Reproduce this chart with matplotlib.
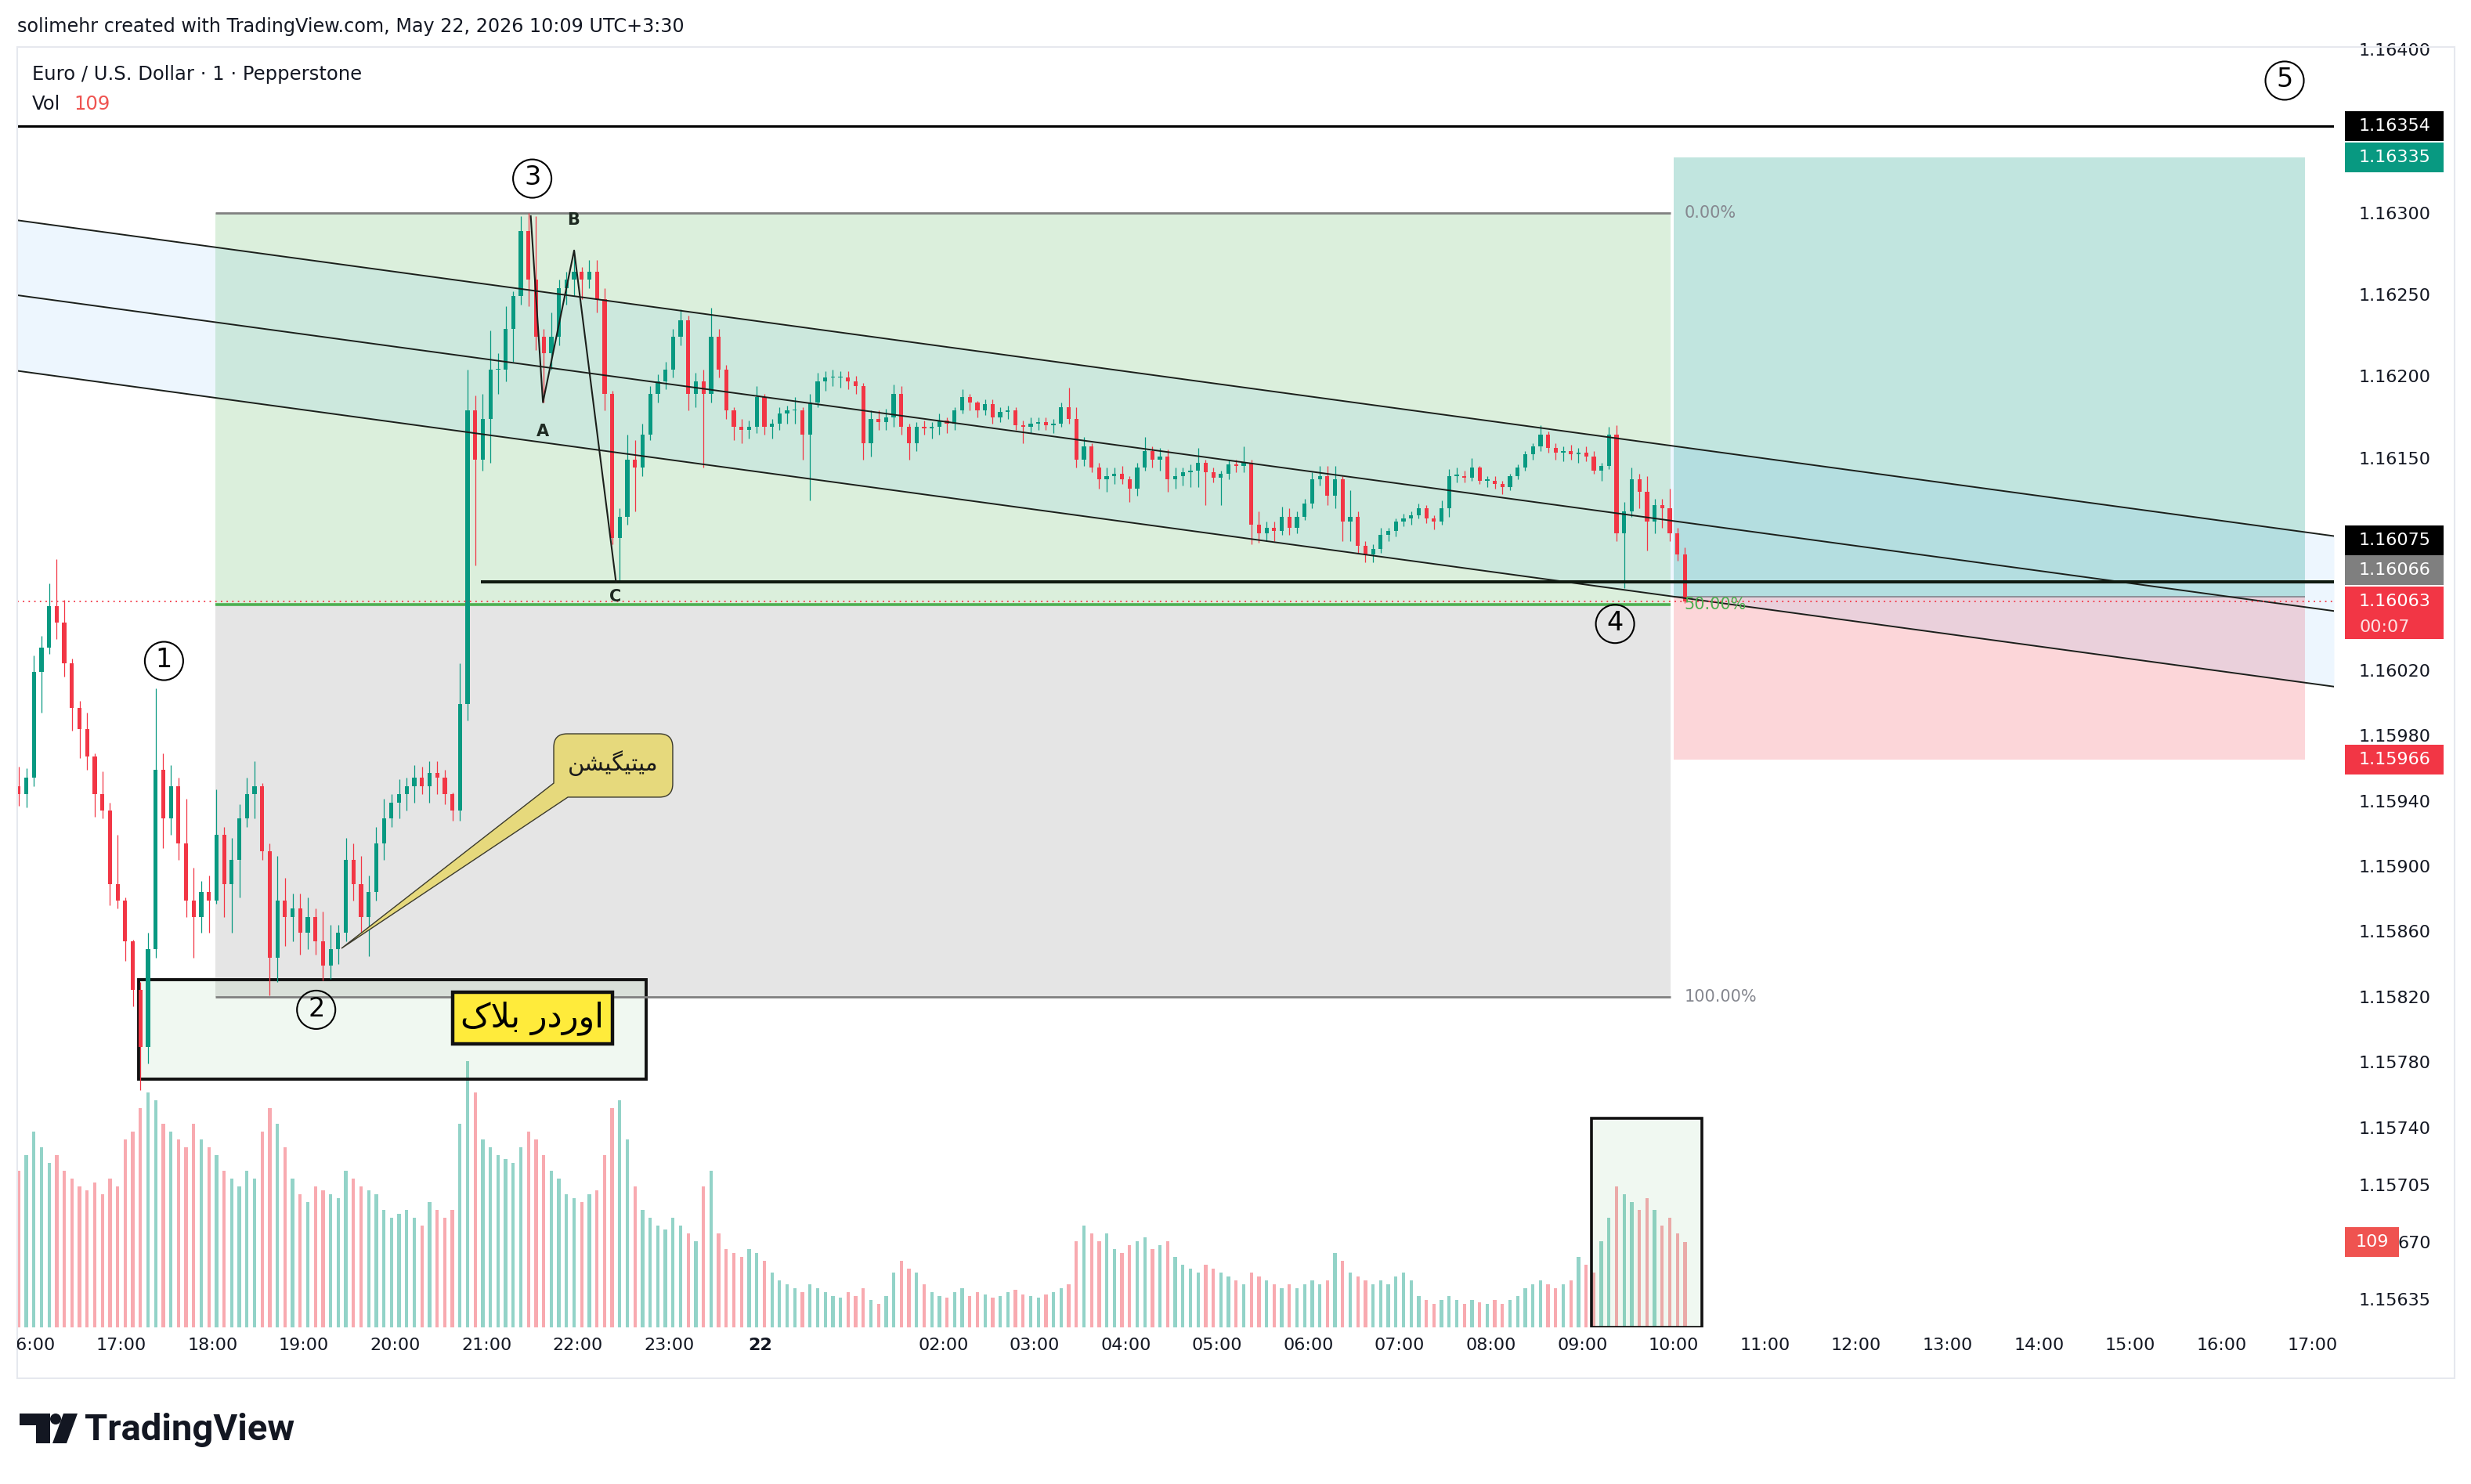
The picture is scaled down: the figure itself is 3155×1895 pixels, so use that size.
import matplotlib
matplotlib.use("Agg")
import numpy as np
import matplotlib.pyplot as plt
import matplotlib.transforms as mtransforms
from matplotlib.patches import Rectangle, PathPatch, Ellipse
from matplotlib.path import Path

W, H, DPI = 3155, 1895, 100

UP = "#089981"
DOWN = "#f23645"
INK = "#131722"

# 5-minute bars, minutes after 16:00 on 21 May (UTC+3:30)
# prices are stored in 1e-5 above 1.15000
BAR_START = -10
BAR_MIN = 5
FIRST_OPEN = 950
CLOSE = [
    945, 955, 1020, 1035, 1060, 1050, 1025, 998, 985, 968,
    945, 935, 890, 880, 855, 825, 790, 850, 960, 930,
    950, 915, 880, 870, 885, 880, 920, 890, 905, 930,
    945, 950, 910, 845, 880, 870, 875, 860, 870, 855,
    840, 850, 860, 905, 890, 870, 885, 915, 930, 940,
    945, 950, 955, 950, 958, 955, 945, 935, 1000, 1180,
    1150, 1175, 1205, 1205, 1230, 1250, 1290, 1260, 1225, 1215,
    1225, 1255, 1260, 1265, 1260, 1265, 1248, 1190, 1102, 1115,
    1150, 1145, 1165, 1190, 1198, 1205, 1225, 1235, 1190, 1198,
    1190, 1225, 1205, 1180, 1170, 1168, 1170, 1188, 1170, 1172,
    1178, 1180, 1180, 1165, 1185, 1198, 1200, 1200, 1200, 1198,
    1195, 1160, 1175, 1173, 1176, 1190, 1170, 1160, 1170, 1169,
    1170, 1174, 1172, 1180, 1188, 1185, 1180, 1184, 1176, 1179,
    1180, 1171, 1170, 1172, 1173, 1171, 1172, 1182, 1175, 1150,
    1158, 1145, 1138, 1140, 1141, 1138, 1132, 1145, 1155, 1150,
    1152, 1138, 1140, 1142, 1143, 1148, 1142, 1139, 1141, 1147,
    1146, 1148, 1110, 1105, 1108, 1106, 1115, 1108, 1115, 1123,
    1138, 1140, 1128, 1138, 1112, 1115, 1097, 1092, 1095, 1104,
    1106, 1112, 1114, 1116, 1120, 1114, 1112, 1120, 1140, 1140,
    1139, 1145, 1137, 1137, 1135, 1133, 1140, 1145, 1153, 1158,
    1165, 1157, 1154, 1155, 1153, 1154, 1152, 1143, 1146, 1165,
    1105, 1118, 1138, 1130, 1112, 1122, 1120, 1105, 1092, 1063,
]
HIGH = [
    962, 961, 1030, 1042, 1074, 1089, 1064, 1028, 1002, 995,
    970, 959, 940, 920, 882, 856, 830, 860, 1010, 970,
    963, 955, 942, 900, 892, 895, 948, 925, 918, 939,
    955, 965, 952, 915, 907, 894, 884, 884, 882, 875,
    873, 865, 865, 918, 915, 907, 895, 925, 942, 945,
    954, 955, 963, 962, 965, 965, 960, 946, 1025, 1205,
    1189, 1190, 1229, 1215, 1244, 1253, 1299, 1301, 1299, 1230,
    1240, 1260, 1265, 1278, 1268, 1272, 1272, 1255, 1192, 1120,
    1165, 1162, 1172, 1195, 1202, 1210, 1230, 1242, 1238, 1203,
    1205, 1243, 1230, 1208, 1182, 1175, 1174, 1195, 1190, 1175,
    1182, 1183, 1188, 1182, 1190, 1203, 1204, 1205, 1204, 1204,
    1201, 1197, 1180, 1180, 1181, 1196, 1195, 1172, 1173, 1174,
    1173, 1178, 1176, 1182, 1193, 1190, 1186, 1187, 1187, 1182,
    1183, 1182, 1174, 1176, 1176, 1176, 1175, 1185, 1194, 1182,
    1164, 1160, 1148, 1145, 1145, 1146, 1140, 1148, 1164, 1158,
    1157, 1156, 1145, 1145, 1147, 1157, 1150, 1145, 1143, 1150,
    1150, 1158, 1150, 1118, 1112, 1112, 1121, 1120, 1118, 1126,
    1142, 1146, 1146, 1146, 1140, 1131, 1118, 1100, 1098, 1108,
    1108, 1114, 1117, 1118, 1123, 1122, 1116, 1125, 1144, 1145,
    1143, 1151, 1146, 1140, 1140, 1137, 1141, 1147, 1155, 1160,
    1171, 1167, 1160, 1158, 1159, 1157, 1158, 1155, 1148, 1170,
    1171, 1124, 1145, 1141, 1140, 1126, 1126, 1132, 1108, 1096,
]
LOW = [
    938, 937, 950, 995, 1031, 1040, 1017, 984, 967, 960,
    931, 930, 877, 875, 843, 815, 764, 780, 845, 912,
    920, 905, 870, 845, 860, 860, 878, 870, 860, 882,
    925, 930, 905, 822, 830, 852, 855, 847, 850, 847,
    831, 832, 841, 855, 880, 860, 846, 880, 905, 925,
    930, 935, 940, 945, 940, 945, 939, 929, 929, 990,
    1085, 1143, 1148, 1190, 1198, 1210, 1245, 1244, 1217, 1185,
    1205, 1220, 1245, 1250, 1248, 1255, 1240, 1180, 1098, 1075,
    1110, 1118, 1140, 1162, 1185, 1193, 1200, 1220, 1180, 1182,
    1145, 1185, 1200, 1175, 1162, 1160, 1163, 1166, 1165, 1163,
    1168, 1172, 1172, 1150, 1125, 1182, 1192, 1195, 1194, 1193,
    1190, 1150, 1152, 1168, 1168, 1170, 1165, 1150, 1155, 1165,
    1163, 1165, 1166, 1168, 1178, 1180, 1176, 1177, 1172, 1173,
    1175, 1168, 1160, 1166, 1168, 1168, 1166, 1170, 1172, 1145,
    1146, 1142, 1132, 1130, 1135, 1135, 1124, 1128, 1143, 1145,
    1143, 1130, 1132, 1134, 1133, 1133, 1122, 1136, 1122, 1138,
    1142, 1142, 1098, 1099, 1100, 1100, 1104, 1104, 1105, 1113,
    1120, 1134, 1122, 1120, 1100, 1100, 1093, 1087, 1087, 1093,
    1100, 1103, 1109, 1110, 1114, 1111, 1107, 1110, 1115, 1136,
    1136, 1137, 1135, 1133, 1132, 1129, 1131, 1138, 1143, 1150,
    1155, 1154, 1150, 1149, 1150, 1148, 1149, 1141, 1137, 1144,
    1100, 1071, 1115, 1120, 1094, 1105, 1108, 1100, 1088, 1062,
]
VOLUME = [
    200, 220, 250, 230, 210, 220, 200, 190, 180, 175,
    185, 170, 190, 180, 240, 250, 280, 300, 290, 260,
    250, 240, 230, 260, 240, 230, 220, 200, 190, 180,
    200, 190, 250, 280, 260, 230, 190, 170, 160, 180,
    175, 170, 165, 200, 190, 180, 175, 170, 150, 140,
    145, 150, 140, 130, 160, 150, 140, 150, 260, 340,
    300, 240, 230, 220, 215, 210, 230, 250, 240, 220,
    200, 190, 170, 165, 160, 170, 175, 220, 280, 290,
    240, 180, 150, 140, 130, 125, 140, 130, 120, 110,
    180, 200, 120, 100, 95, 90, 100, 95, 85, 70,
    60, 55, 50, 45, 55, 50, 45, 40, 38, 45,
    40, 50, 35, 30, 40, 70, 85, 75, 70, 55,
    45, 40, 38, 45, 50, 40, 45, 42, 38, 40,
    45, 48, 42, 40, 38, 42, 45, 50, 55, 110,
    130, 120, 110, 120, 100, 95, 105, 110, 115, 100,
    105, 110, 90, 80, 75, 70, 80, 75, 70, 65,
    60, 55, 70, 65, 60, 55, 50, 55, 50, 55,
    60, 55, 60, 95, 85, 70, 65, 60, 55, 60,
    55, 65, 70, 60, 40, 35, 30, 35, 40, 35,
    30, 35, 32, 30, 35, 30, 35, 40, 50, 55,
    60, 55, 50, 55, 60, 90, 80, 70, 110, 140,
    180, 170, 160, 150, 165, 150, 130, 140, 120, 109,
]

TIME_TICKS = [0, 60, 120, 180, 240, 300, 360, 420, 480, 600, 660, 720, 780,
              840, 900, 960, 1020, 1080, 1140, 1200, 1260, 1320, 1380, 1440, 1500]
TIME_LABELS = ["16:00", "17:00", "18:00", "19:00", "20:00", "21:00", "22:00",
               "23:00", "22", "02:00", "03:00", "04:00", "05:00", "06:00",
               "07:00", "08:00", "09:00", "10:00", "11:00", "12:00", "13:00",
               "14:00", "15:00", "16:00", "17:00"]
PRICE_TICKS = [1.16400, 1.16300, 1.16250, 1.16200, 1.16150, 1.16020, 1.15980,
               1.15940, 1.15900, 1.15860, 1.15820, 1.15780, 1.15740, 1.15705,
               1.15670, 1.15635]
# the volume tag covers the front of this tick, only its tail shows
PRICE_TICK_TEXT = {1.15670: "670"}

# drawings (time in minutes after 16:00, prices)
XMIN, XMAX = -8.44, 1513.9
YMIN, YMAX = 1.156185, 1.164026
TOP_LINE = 1.16354
LAST_PRICE = 1.16063
FIB_T = (122, 1078)
FIB_LEVELS = (1.16301, 1.16061, 1.15821)
FIB_NAMES = ("0.00%", "50.00%", "100.00%")
POS_T = (1080, 1495)
POS_TARGET, POS_ENTRY, POS_STOP = 1.16335, 1.16066, 1.15966
CH_T = (XMIN, XMAX)
CH_UPPER = (1.162965, 1.161031)
CH_MID = (1.162506, 1.160572)
CH_LOWER = (1.162043, 1.160109)
C_LINE_T = (296, XMAX)
C_LINE_P = 1.16075
ABC_T = [329, 337, 357.5, 385]
ABC_P = [1.16299, 1.16185, 1.16278, 1.16075]
ABC_TEXT = [("A", 337, 1.16167), ("B", 357, 1.162965), ("C", 384.5, 1.16066)]
WAVES = [("1", 88, 1.160266), ("2", 188, 1.15813), ("3", 330, 1.16322),
         ("4", 1041.5, 1.160493), ("5", 1481.5, 1.16382)]
OB_T = (71.3, 404.8)
OB_P = (1.157705, 1.158314)
OB_TAG_T = (277.5, 382.7)
OB_TAG_P = (1.157923, 1.158239)
OB_TEXT = "\ufb8e\ufefc\ufe91 \ufead\ufea9\ufead\ufeed\ufe8d"      # اوردر بلاک
CO_TIP = (204.6, 1.158506)
CO_BOX_T = (344.1, 422.3)
CO_BOX_P = (1.159432, 1.159820)
CO_ATTACH = (353.4, 1.159518)
CO_TEXT = "\ufee6\ufeb8\ufef4\ufb95\ufef4\ufe98\ufef4\ufee3"        # میتیگیشن
VOL_BOX_T = (1026, 1098.5)
VOL_BOX_V = 267

AX_L, AX_R, AX_T, AX_B = 22, 2980, 60, 1695


def fx(px):
    return px / W


def fy(py):
    return 1 - py / H


def to_price(v):
    return 1.15 + np.asarray(v, dtype=float) / 1e5


fig = plt.figure(figsize=(W / DPI, H / DPI), dpi=DPI)
fig.patch.set_facecolor("white")
rect = [fx(AX_L), fy(AX_B), fx(AX_R) - fx(AX_L), fy(AX_T) - fy(AX_B)]
vax = fig.add_axes(rect)
ax = fig.add_axes(rect)
ax.patch.set_visible(False)
for a in (vax, ax):
    a.set_xlim(XMIN, XMAX)
    a.set_xticks([])
    a.set_yticks([])
    for s in a.spines.values():
        s.set_visible(False)
ax.set_ylim(YMIN, YMAX)
vax.set_ylim(0, AX_B - AX_T)
px_per_price = (AX_B - AX_T) / (YMAX - YMIN)

# chart frame
fig.add_artist(Rectangle((fx(22), fy(1760)), fx(3134) - fx(22), fy(60) - fy(1760),
                         transform=fig.transFigure, fill=False, ec="#e6e8ee", lw=1.5))

# candles + volume
t_mid = BAR_START + BAR_MIN * np.arange(len(CLOSE)) + BAR_MIN / 2
opens = np.array([FIRST_OPEN] + CLOSE[:-1], dtype=float)
closes = np.array(CLOSE, dtype=float)
rising = closes >= opens
vax.bar(t_mid, VOLUME, width=2.2, color=np.where(rising, "#93d3c8", "#f8aab0"), lw=0, zorder=1)
ccol = np.where(rising, UP, DOWN)
ax.vlines(t_mid, to_price(LOW), to_price(HIGH), colors=ccol, lw=0.9, zorder=5)
ax.bar(t_mid, np.maximum(np.abs(closes - opens), 0.7) / 1e5,
       bottom=to_price(np.minimum(opens, closes)), width=2.7, color=ccol, lw=0, zorder=5)

# channel
ax.fill_between(CH_T, CH_LOWER, CH_UPPER, color="#2196f3", alpha=0.08, lw=0, zorder=1.5)
for line in (CH_UPPER, CH_MID, CH_LOWER):
    ax.plot(CH_T, line, color="#1b1f1b", lw=1.4, zorder=6)

# fib retracement
ax.fill_between(FIB_T, FIB_LEVELS[1], FIB_LEVELS[0], color="#4caf50", alpha=0.2, lw=0, zorder=1)
ax.fill_between(FIB_T, FIB_LEVELS[2], FIB_LEVELS[1], color="#808080", alpha=0.2, lw=0, zorder=1)
fib_cols = ("#808080", "#4caf50", "#808080")
for lvl, name, col, lw in zip(FIB_LEVELS, FIB_NAMES, fib_cols, (2.0, 2.6, 2.0)):
    ax.hlines(lvl, FIB_T[0], FIB_T[1], color=col, lw=lw, zorder=4)
    ax.text(FIB_T[1] + 9, lvl, name, color=col if col != "#808080" else "#85878f",
            fontsize=15, ha="left", va="center", zorder=7)

# long position
ax.fill_between(POS_T, POS_ENTRY, POS_TARGET, color=UP, alpha=0.25, lw=0, zorder=1)
ax.fill_between(POS_T, POS_STOP, POS_ENTRY, color=DOWN, alpha=0.2, lw=0, zorder=1)
ax.hlines(POS_ENTRY, POS_T[0], POS_T[1], color="#8a8f98", lw=1.4, zorder=4)

# horizontal levels
ax.axhline(TOP_LINE, color="black", lw=2.2, zorder=6)
ax.hlines(C_LINE_P, C_LINE_T[0], C_LINE_T[1], color="#0f1a10", lw=2.9, zorder=6)
ax.axhline(LAST_PRICE, color=DOWN, lw=1.3, ls=(0, (1, 3)), zorder=6)

# ABC correction
ax.plot(ABC_T, ABC_P, color="#1b1f1b", lw=1.5, zorder=6)
for s, t, p in ABC_TEXT:
    ax.text(t, p, s, fontsize=15, fontweight="bold", color="#1e2a22", ha="center", va="center", zorder=8)

# wave counts
for s, t, p in WAVES:
    ax.scatter([t], [p], s=1245, facecolors="none", edgecolors="black", linewidths=1.5, zorder=8)
    ax.text(t, p + 1.2 / px_per_price, s, fontsize=24, ha="center", va="center", color="black", zorder=8)

# order block
ax.add_patch(Rectangle((OB_T[0], OB_P[0]), OB_T[1] - OB_T[0], OB_P[1] - OB_P[0],
                       fc=(0.298, 0.686, 0.314, 0.08), ec="#111111", lw=2.8, zorder=2))
ax.add_patch(Rectangle((OB_TAG_T[0], OB_TAG_P[0]), OB_TAG_T[1] - OB_TAG_T[0], OB_TAG_P[1] - OB_TAG_P[0],
                       fc="#ffeb3b", ec="#111111", lw=3.2, zorder=7))
ax.text(sum(OB_TAG_T) / 2, sum(OB_TAG_P) / 2, OB_TEXT, fontsize=31, family="DejaVu Sans",
        ha="center", va="center", color="black", zorder=8)

# callout
tr = ax.transData
tip = tr.transform(CO_TIP)
L, B = tr.transform((CO_BOX_T[0], CO_BOX_P[0]))
R, T = tr.transform((CO_BOX_T[1], CO_BOX_P[1]))
ax_x, _ = tr.transform((CO_ATTACH[0], CO_BOX_P[0]))
_, ay = tr.transform((CO_BOX_T[0], CO_ATTACH[1]))
r = 17
verts = [tuple(tip), (L, ay), (L, T - r), (L, T), (L + r, T), (R - r, T), (R, T), (R, T - r),
         (R, B + r), (R, B), (R - r, B), (ax_x, B), tuple(tip), tuple(tip)]
codes = [Path.MOVETO, Path.LINETO, Path.LINETO, Path.CURVE3, Path.CURVE3, Path.LINETO,
         Path.CURVE3, Path.CURVE3, Path.LINETO, Path.CURVE3, Path.CURVE3, Path.LINETO,
         Path.LINETO, Path.CLOSEPOLY]
ax.add_patch(PathPatch(Path(verts, codes), fc="#e6d97c", ec="#3b3a2c", lw=1.0,
                       transform=mtransforms.IdentityTransform(), zorder=7))
ax.text(sum(CO_BOX_T) / 2, sum(CO_BOX_P) / 2 + 3 / px_per_price, CO_TEXT, fontsize=21,
        family="DejaVu Sans", ha="center", va="center", color="#1a1a1a", zorder=8)

# volume highlight
vax.add_patch(Rectangle((VOL_BOX_T[0], 0), VOL_BOX_T[1] - VOL_BOX_T[0], VOL_BOX_V,
                        fc=(0.298, 0.686, 0.314, 0.08), ec="#111111", lw=2.6, zorder=3))

# header
fig.text(fx(22), fy(34), "solimehr created with TradingView.com, May 22, 2026 10:09 UTC+3:30",
         fontsize=17.2, color=INK, ha="left", va="center")
fig.text(fx(41), fy(95), "Euro / U.S. Dollar \u00b7 1 \u00b7 Pepperstone", fontsize=17.5,
         color=INK, ha="left", va="center")
fig.text(fx(41), fy(133), "Vol", fontsize=17.5, color=INK, ha="left", va="center")
fig.text(fx(94), fy(133), "109", fontsize=17.5, color="#ef5350", ha="left", va="center")

# time axis
tx = mtransforms.blended_transform_factory(ax.transData, fig.transFigure)
clip = mtransforms.TransformedBbox(mtransforms.Bbox.from_extents(fx(AX_L), 0, 1, 1), fig.transFigure)
for t, lab in zip(TIME_TICKS, TIME_LABELS):
    txt = fig.text(t, fy(1718), lab, transform=tx, fontsize=16, color=INK, ha="center",
                   va="center", fontweight="bold" if lab == "22" else "normal")
    txt.set_clip_box(clip)
    txt.set_clip_on(True)

# price axis
py = mtransforms.blended_transform_factory(fig.transFigure, ax.transData)
for p in PRICE_TICKS:
    ax.text(fx(3104), p, PRICE_TICK_TEXT.get(p, f"{p:.5f}"), transform=py, fontsize=16,
            color=INK, ha="right", va="center", clip_on=False, zorder=3)

box_h = 38 / px_per_price


def price_tag(center, text, color, lines=1):
    hgt = box_h if lines == 1 else 67 / px_per_price
    top = center + 19 / px_per_price
    ax.add_patch(Rectangle((fx(2994), top - hgt), fx(3120) - fx(2994), hgt, transform=py,
                           fc=color, ec="none", clip_on=False, zorder=10))
    ax.text(fx(3012), center, text, transform=py, fontsize=16, color="white",
            ha="left", va="center", clip_on=False, zorder=11)


price_tag(TOP_LINE, f"{TOP_LINE:.5f}", "black")
price_tag(POS_TARGET, f"{POS_TARGET:.5f}", UP)
price_tag(LAST_PRICE + 78 / px_per_price, f"{C_LINE_P:.5f}", "black")
price_tag(LAST_PRICE + 40 / px_per_price, f"{POS_ENTRY:.5f}", "#7f7f7f")
price_tag(LAST_PRICE, f"{LAST_PRICE:.5f}", DOWN, lines=2)
ax.text(fx(3012), LAST_PRICE - 33 / px_per_price, "00:07", transform=py, fontsize=16,
        color="#fde0e2", ha="left", va="center", clip_on=False, zorder=11)
price_tag(POS_STOP, f"{POS_STOP:.5f}", DOWN)

# current volume tag on the price scale
vy = mtransforms.blended_transform_factory(fig.transFigure, vax.transData)
ax.add_patch(Rectangle((fx(2994), VOLUME[-1] - 19), fx(3063) - fx(2994), 38, transform=vy,
                       fc="#ef5350", ec="none", clip_on=False, zorder=10))
ax.text(fx(3008), VOLUME[-1], str(VOLUME[-1]), transform=vy, fontsize=16, color="white",
        ha="left", va="center", clip_on=False, zorder=11)

# TradingView logo
fig.add_artist(plt.Polygon([(fx(25), fy(1805)), (fx(64), fy(1805)), (fx(64), fy(1843)),
                            (fx(46), fy(1843)), (fx(46), fy(1820)), (fx(25), fy(1820))],
                           closed=True, transform=fig.transFigure, fc="#131722", ec="none"))
fig.add_artist(plt.Polygon([(fx(81), fy(1805)), (fx(99), fy(1805)), (fx(85), fy(1843)),
                            (fx(67), fy(1843))], closed=True, transform=fig.transFigure,
                           fc="#131722", ec="none"))
fig.add_artist(Ellipse((fx(71), fy(1812)), 14 / W, 14 / H,
                       transform=fig.transFigure, fc="#131722", ec="none"))
fig.text(fx(108), fy(1826), "TradingView", fontsize=34, fontweight="bold", family="Roboto",
         color="#131722", ha="left", va="center")

ax.set_xlim(XMIN, XMAX)
ax.set_ylim(YMIN, YMAX)
fig.savefig("out.png", dpi=DPI, facecolor="white")
